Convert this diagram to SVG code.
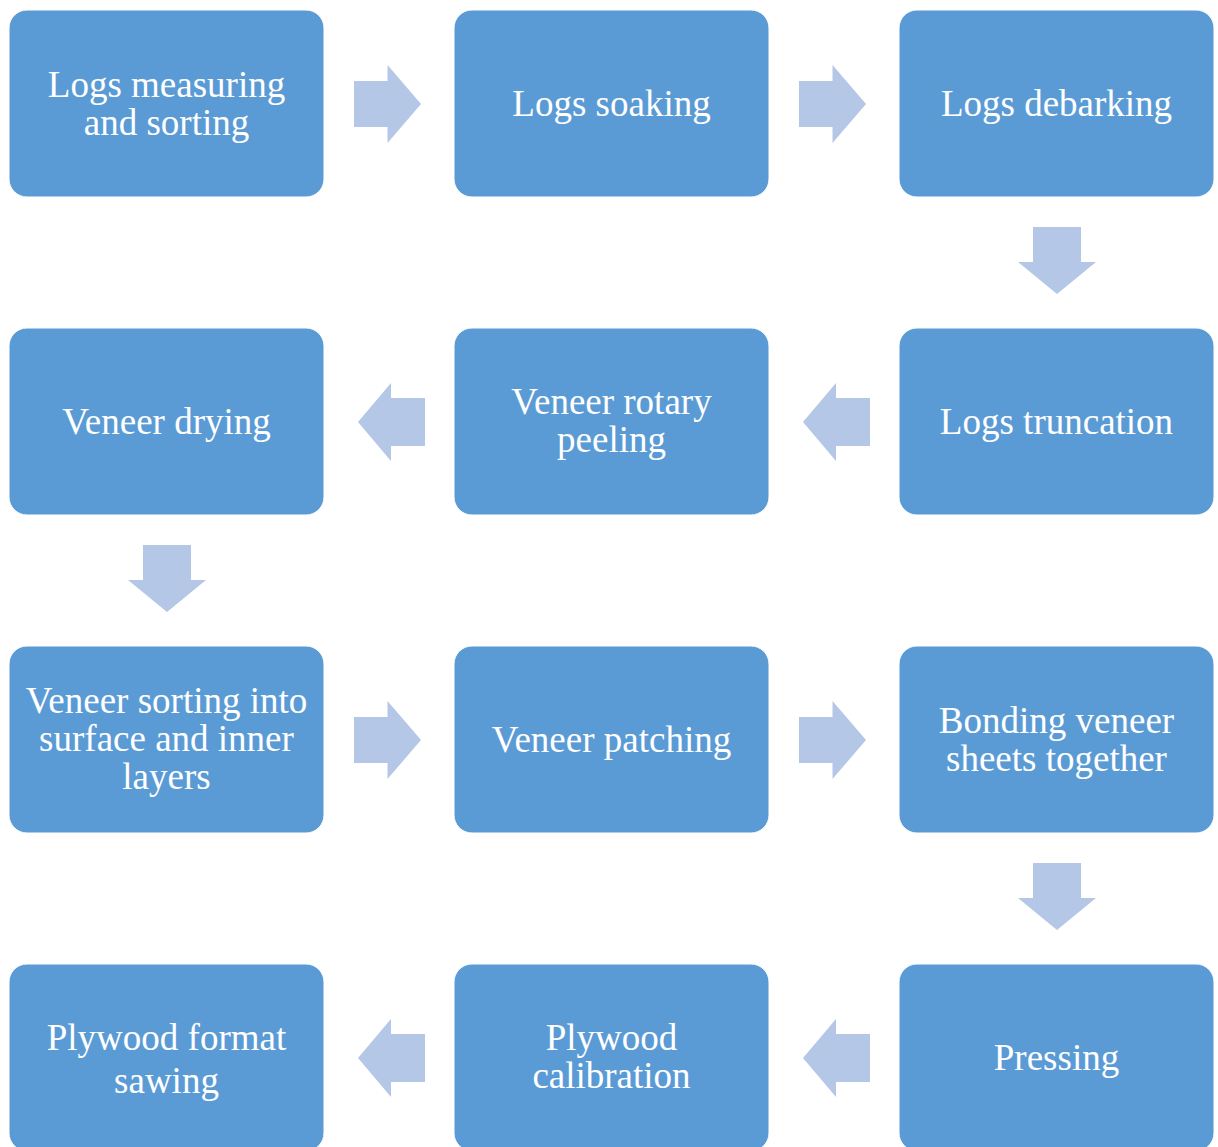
<svg xmlns="http://www.w3.org/2000/svg" width="1218" height="1147" viewBox="0 0 1218 1147">
<style>
.box{fill:#5B9BD5;stroke:#ffffff;stroke-width:1}
.lbl{fill:#ffffff;font-family:"Liberation Serif","Times New Roman",serif;font-size:37px;text-anchor:middle}
.arr{fill:#B4C7E7}
</style>
<rect width="1218" height="1147" fill="#ffffff"/>
<g id="connectors">
<polygon class="arr" points="354,81 387.5,81 387.5,65 421,104 387.5,143 387.5,127 354,127"/>
<polygon class="arr" points="799,81 832.5,81 832.5,65 866,104 832.5,143 832.5,127 799,127"/>
<polygon class="arr" points="1033,227 1081,227 1081,262 1096,262 1057,294 1018,262 1033,262"/>
<polygon class="arr" points="870,398 836,398 836,383 803,422 836,461 836,446 870,446"/>
<polygon class="arr" points="425,398 391,398 391,383 358,422 391,461 391,446 425,446"/>
<polygon class="arr" points="143,545 191,545 191,580 206,580 167,612 128,580 143,580"/>
<polygon class="arr" points="354,717 387.5,717 387.5,701 421,740 387.5,779 387.5,763 354,763"/>
<polygon class="arr" points="799,717 832.5,717 832.5,701 866,740 832.5,779 832.5,763 799,763"/>
<polygon class="arr" points="1033,863 1081,863 1081,898 1096,898 1057,930 1018,898 1033,898"/>
<polygon class="arr" points="870,1034 836,1034 836,1019 803,1058 836,1097 836,1082 870,1082"/>
<polygon class="arr" points="425,1034 391,1034 391,1019 358,1058 391,1097 391,1082 425,1082"/>
</g>
<g id="n1"><rect class="box" x="9" y="10" width="315" height="187" rx="18"/><text class="lbl" x="166.5" y="96.5">Logs measuring</text><text class="lbl" x="166.5" y="135">and sorting</text></g>
<g id="n2"><rect class="box" x="454" y="10" width="315" height="187" rx="18"/><text class="lbl" x="611.5" y="115.5">Logs soaking</text></g>
<g id="n3"><rect class="box" x="899" y="10" width="315" height="187" rx="18"/><text class="lbl" x="1056.5" y="115.5">Logs debarking</text></g>
<g id="n4"><rect class="box" x="899" y="328" width="315" height="187" rx="18"/><text class="lbl" x="1056.5" y="433.5">Logs truncation</text></g>
<g id="n5"><rect class="box" x="454" y="328" width="315" height="187" rx="18"/><text class="lbl" x="611.5" y="413.5">Veneer rotary</text><text class="lbl" x="611.5" y="452">peeling</text></g>
<g id="n6"><rect class="box" x="9" y="328" width="315" height="187" rx="18"/><text class="lbl" x="166.5" y="433.5">Veneer drying</text></g>
<g id="n7"><rect class="box" x="9" y="646" width="315" height="187" rx="18"/><text class="lbl" x="166.5" y="712.5">Veneer sorting into</text><text class="lbl" x="166.5" y="750.5">surface and inner</text><text class="lbl" x="166.5" y="789">layers</text></g>
<g id="n8"><rect class="box" x="454" y="646" width="315" height="187" rx="18"/><text class="lbl" x="611.5" y="751.5">Veneer patching</text></g>
<g id="n9"><rect class="box" x="899" y="646" width="315" height="187" rx="18"/><text class="lbl" x="1056.5" y="732.5">Bonding veneer</text><text class="lbl" x="1056.5" y="771">sheets together</text></g>
<g id="n10"><rect class="box" x="899" y="964" width="315" height="187" rx="18"/><text class="lbl" x="1056.5" y="1069.5">Pressing</text></g>
<g id="n11"><rect class="box" x="454" y="964" width="315" height="187" rx="18"/><text class="lbl" x="611.5" y="1049.5">Plywood</text><text class="lbl" x="611.5" y="1088">calibration</text></g>
<g id="n12"><rect class="box" x="9" y="964" width="315" height="187" rx="18"/><text class="lbl" x="166.5" y="1050">Plywood format</text><text class="lbl" x="166.5" y="1093">sawing</text></g>
</svg>
